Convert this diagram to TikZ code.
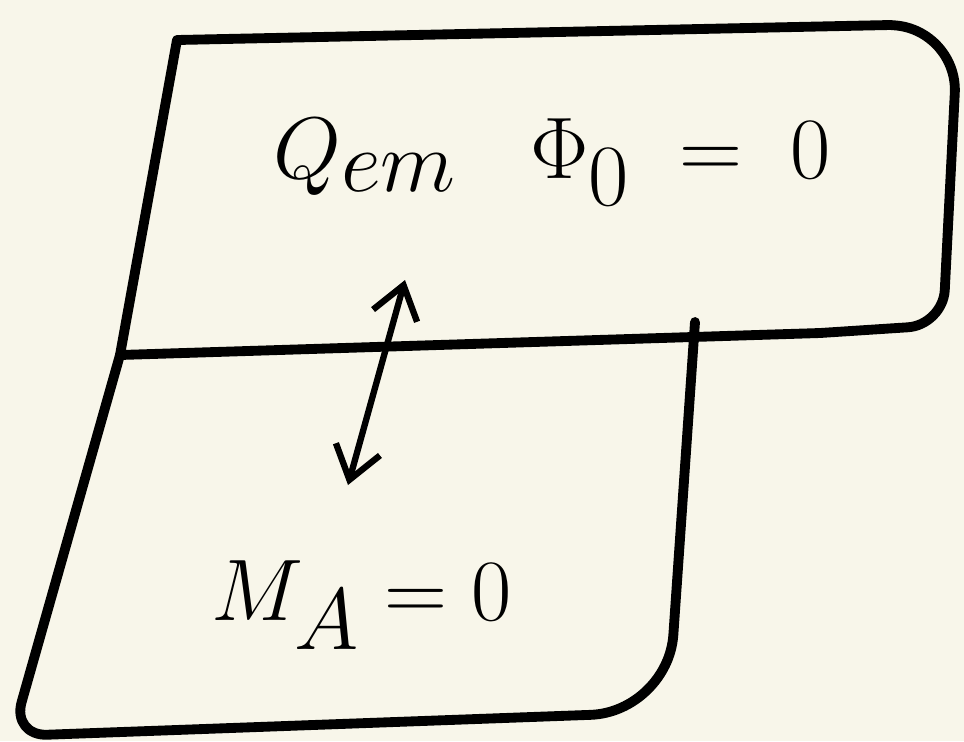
\documentclass[tikz,border=0pt]{standalone}
\usetikzlibrary{arrows.meta}
\definecolor{paper}{RGB}{248,246,234}
\begin{document}
\begin{tikzpicture}[
  pen/.style={line width=2.8pt, line cap=round, line join=round},
  finepen/.style={line width=1.8pt, line cap=round},
  hand/.style={font=\fontsize{36}{42}\selectfont},
  >={Straight Barb[length=9pt, width=13pt]}
]
\fill[paper] (0,0) rectangle (9.64,-7.41);
\useasboundingbox (0,0) rectangle (9.64,-7.41);
% upper box
\draw[pen] (1.20,-3.55) -- (1.77,-0.40) -- (8.90,-0.25) [rounded corners=18pt] -- (9.58,-0.30) [rounded corners=10pt] -- (9.43,-3.25) [sharp corners] -- (8.20,-3.33) -- (1.20,-3.55);
% lower box
\draw[pen] (1.20,-3.55) [rounded corners=10pt] -- (0.12,-7.36) [rounded corners=22pt] -- (6.68,-7.12) [sharp corners] -- (6.95,-3.22);
% texts
\node[hand] (cons) at (5.52,-1.62) {$Q_{em}\;\;\;\Phi_0\; =\; 0$};
\node[hand] (moment) at (3.62,-6.05) {$M_A = 0$};
% arrow between them
\coordinate (arrtop) at (4.05,-2.80);
\coordinate (arrbot) at (3.48,-4.85);
\draw[finepen, <->] (arrbot) -- (arrtop);
\end{tikzpicture}
\end{document}
